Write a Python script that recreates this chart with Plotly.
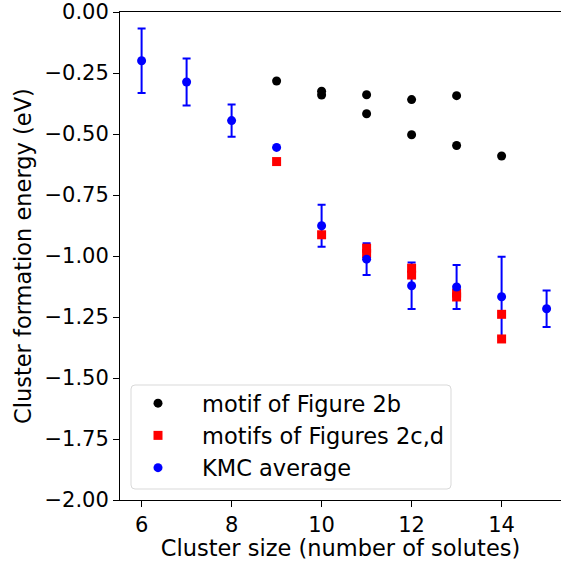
import plotly.graph_objects as go

# KMC average
kmc_size = [6, 7, 8, 9, 10, 11, 12, 13, 14, 15]
kmc_energy = [-0.200, -0.287, -0.445, -0.555, -0.876, -1.013, -1.122, -1.127, -1.167, -1.216]
kmc_err = [0.132, 0.096, 0.066, 0.0, 0.086, 0.065, 0.095, 0.090, 0.164, 0.075]

# motif of Figure 2b
b_size = [9, 10, 10, 11, 11, 12, 12, 13, 13, 14]
b_energy = [-0.283, -0.325, -0.340, -0.339, -0.417, -0.359, -0.503, -0.343, -0.547, -0.590]

# motifs of Figures 2c,d
cd_size = [9, 10, 11, 11, 12, 12, 13, 13, 14, 14]
cd_energy = [-0.613, -0.913, -0.968, -0.990, -1.050, -1.078, -1.152, -1.168, -1.239, -1.340]

y_ticks = [0.0, -0.25, -0.5, -0.75, -1.0, -1.25, -1.5, -1.75, -2.0]
x_ticks = [6, 8, 10, 12, 14]

FONT = "DejaVu Sans"

fig = go.Figure()

# error bars (drawn beneath the other markers)
fig.add_trace(go.Scatter(
    x=kmc_size, y=kmc_energy, mode="markers",
    marker=dict(size=9, color="rgba(0,0,0,0)"),
    error_y=dict(type="data", array=kmc_err, visible=True, color="blue",
                 thickness=2, width=4),
    showlegend=False, hoverinfo="skip"))

fig.add_trace(go.Scatter(
    x=b_size, y=b_energy, mode="markers", name="motif of Figure 2b",
    marker=dict(size=9, color="black", symbol="circle"),
    legendgroup="a"))

fig.add_trace(go.Scatter(
    x=cd_size, y=cd_energy, mode="markers", name="motifs of Figures 2c,d",
    marker=dict(size=9, color="red", symbol="square"),
    legendgroup="b"))

fig.add_trace(go.Scatter(
    x=kmc_size, y=kmc_energy, mode="markers", name="KMC average",
    marker=dict(size=9, color="blue", symbol="circle"),
    legendgroup="c"))

L, R, T, B = 120, 0, 12, 61
W = H = 561
pw, ph = W - L - R, H - T - B


def px(xp):
    return (xp - L) / pw


def py(yp):
    return (H - B - yp) / ph


# rounded legend frame
x0, x1, y0, y1 = px(131), px(451), py(489), py(385)
r = 4
rx, ry = r / pw, r / ph
path = (f"M {x0+rx},{y0} L {x1-rx},{y0} Q {x1},{y0} {x1},{y0+ry} "
        f"L {x1},{y1-ry} Q {x1},{y1} {x1-rx},{y1} L {x0+rx},{y1} "
        f"Q {x0},{y1} {x0},{y1-ry} L {x0},{y0+ry} Q {x0},{y0} {x0+rx},{y0} Z")
fig.add_shape(type="path", path=path, xref="paper", yref="paper",
              line=dict(color="#d9d9d9", width=1), fillcolor="white",
              layer="above")

# y-axis title as rotated text
fig.add_annotation(text="Cluster formation energy (eV)", textangle=-90,
                   xref="paper", yref="paper", x=px(23), y=0.5,
                   xanchor="center", yanchor="middle", showarrow=False,
                   font=dict(family=FONT, size=22.5, color="black"))

fig.update_layout(
    width=W, height=H,
    margin=dict(l=L, r=R, t=T, b=B, pad=0, autoexpand=False),
    plot_bgcolor="white", paper_bgcolor="white",
    font=dict(family=FONT, size=21, color="black"),
    showlegend=True,
    legend=dict(x=px(114), y=py(382), xanchor="left", yanchor="top",
                bgcolor="rgba(0,0,0,0)", borderwidth=0,
                font=dict(family=FONT, size=22.5, color="black"),
                tracegroupgap=0, itemwidth=78),
    xaxis=dict(range=[5.52, 15.32], tickvals=x_ticks, ticks="outside",
               ticklen=6, tickwidth=1, tickcolor="black",
               showline=True, linecolor="black", linewidth=1, mirror=True,
               showgrid=False, zeroline=False, automargin=False,
               title=dict(text="Cluster size (number of solutes)",
                          font=dict(size=22.5), standoff=0),
               tickfont=dict(size=21)),
    yaxis=dict(range=[-2.0, 0.0], tickvals=y_ticks, tickformat=".2f",
               ticks="outside", ticklen=6, tickwidth=1, tickcolor="black",
               showline=True, linecolor="black", linewidth=1, mirror=False,
               showgrid=False, zeroline=False, automargin=False,
               tickfont=dict(size=21)),
)

fig.write_html("out.html",
               config={"displayModeBar": False},
               post_script="document.body.style.margin='0';"
                           "document.body.style.padding='0';")
